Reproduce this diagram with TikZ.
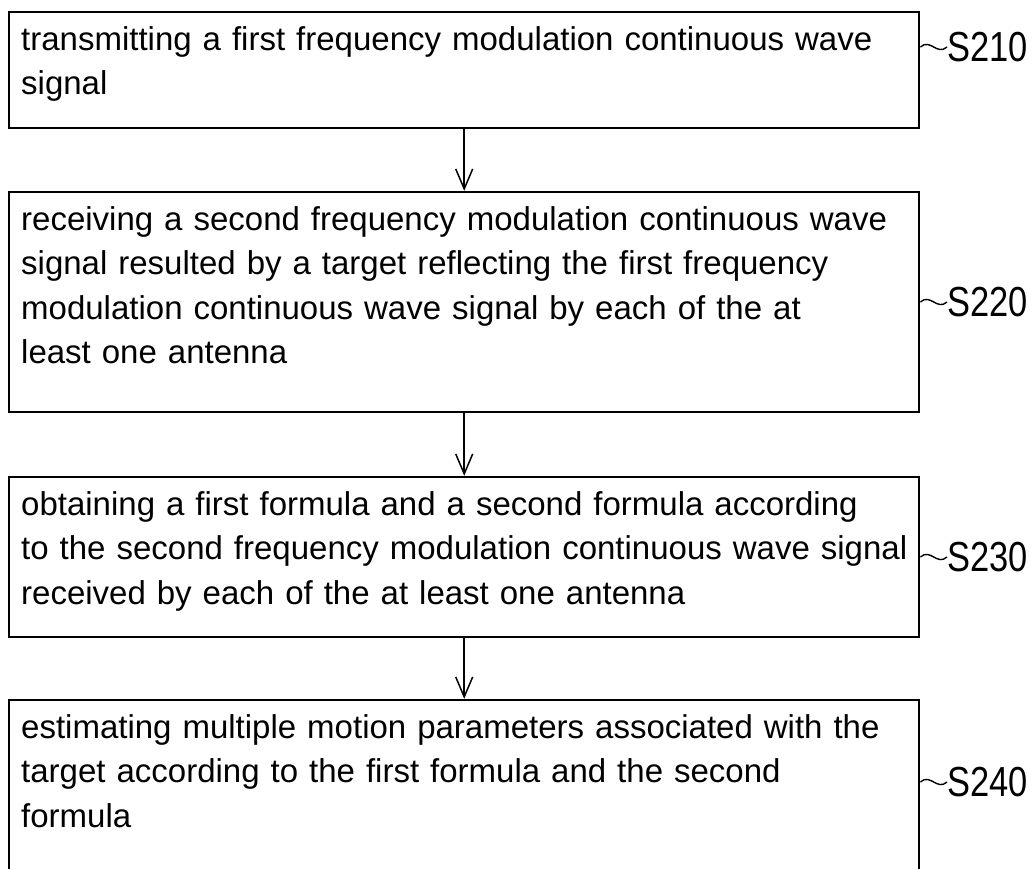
\documentclass[tikz,border=0pt]{standalone}
\usepackage{fontspec}
\usepackage{graphicx}
\setmainfont{Liberation Sans}
\usetikzlibrary{arrows.meta}
\hyphenpenalty=10000
\begin{document}
\begin{tikzpicture}[x=1pt,y=-1pt,
  stepbox/.style={draw, line width=2.4pt, rectangle, anchor=base west,
    text width=886pt, inner xsep=12pt, inner ysep=0pt, align=left,
    text height=38pt, font=\fontsize{33}{44.5}\selectfont},
  flow/.style={line width=1.5pt, -{Straight Barb[length=20pt,width=17pt,line width=1.5pt]}},
  steplabel/.style={anchor=west, inner sep=0pt, font=\fontsize{42}{42}\selectfont},
  tildeline/.style={line width=1.4pt}]
\useasboundingbox (0,0) rectangle (1032,868);

\node (b1) [stepbox, text depth=78pt] at (8,50)
  {transmitting a first frequency modulation continuous wave\\signal};
\node (b2) [stepbox, text depth=182pt] at (8,230)
  {receiving a second frequency modulation continuous wave\\signal resulted by a target reflecting the first frequency\\modulation continuous wave signal by each of the at\\least one antenna};
\node (b3) [stepbox, text depth=122pt] at (8,515)
  {obtaining a first formula and a second formula according\\\mbox{to the second frequency modulation continuous wave signal}\\received by each of the at least one antenna};
\node (b4) [stepbox, text depth=134pt] at (8,738)
  {estimating multiple motion parameters associated with the\\target according to the first formula and the second\\formula};

\draw[flow] (b1.south) -- (b2.north);
\draw[flow] (b2.south) -- (b3.north);
\draw[flow] (b3.south) -- (b4.north);

\node (l1) [steplabel] at (947,47) {\scalebox{0.82}[1]{S210}};
\node (l2) [steplabel] at (947,302) {\scalebox{0.82}[1]{S220}};
\node (l3) [steplabel] at (947,557) {\scalebox{0.82}[1]{S230}};
\node (l4) [steplabel] at (947,782) {\scalebox{0.82}[1]{S240}};

\foreach \b/\l in {b1/l1,b2/l2,b3/l3,b4/l4}{
  \draw[tildeline] (\b.east |- \l.west) .. controls +(10,-9) and +(-10,9) .. (\l.west);
}
\end{tikzpicture}
\end{document}
